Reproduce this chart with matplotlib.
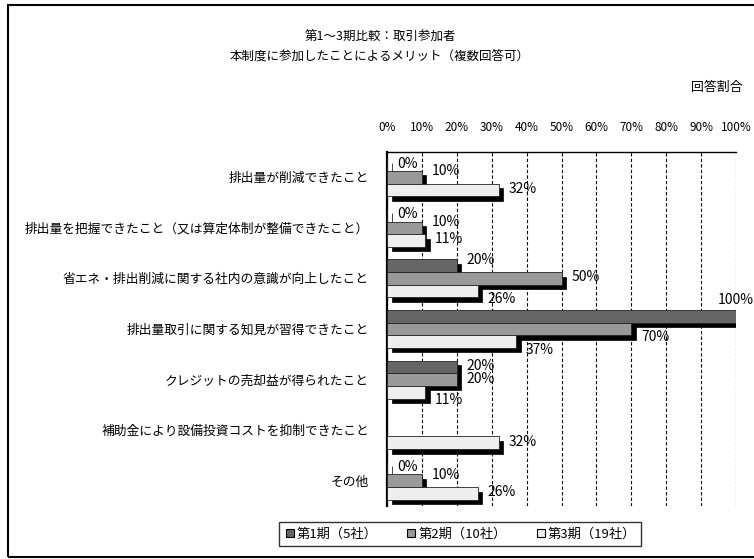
import matplotlib
matplotlib.use('Agg')
import matplotlib.pyplot as plt
import matplotlib.transforms as mtransforms
from matplotlib.lines import Line2D
from matplotlib.patches import Rectangle
import numpy as np

plt.rcParams['font.family'] = ['Noto Sans CJK JP', 'DejaVu Sans']

categories = ['排出量が削減できたこと',
              '排出量を把握できたこと（又は算定体制が整備できたこと）',
              '省エネ・排出削減に関する社内の意識が向上したこと',
              '排出量取引に関する知見が習得できたこと',
              'クレジットの売却益が得られたこと',
              '補助金により設備投資コストを抑制できたこと',
              'その他']
series_names = ['第1期（5社）', '第2期（10社）', '第3期（19社）']
period1 = [0, 0, 20, 100, 20, np.nan, 0]
period2 = [10, 10, 50, 70, 20, np.nan, 10]
period3 = [32, 11, 26, 37, 11, 32, 26]
xticks = list(range(0, 101, 10))

colors = ['#666666', '#999999', '#eeeeee']
W, H = 754, 559
fig = plt.figure(figsize=(W/100, H/100), dpi=100)
ax = fig.add_axes([387/W, 1-506/H, (736-387)/W, (506-152)/H])

bh = 0.25
y = np.arange(len(categories))
allvals = np.array([period1, period2, period3], dtype=float)
shadow = mtransforms.ScaledTranslation(4.5/100, -4.5/100, fig.dpi_scale_trans)
for j, vals in enumerate(allvals):
    pos = y + (j - 1)*bh
    sh = ax.barh(pos, vals, height=bh, color='black', edgecolor='black',
                 linewidth=0.5, zorder=3 + 2*j)
    for p in sh:
        p.set_transform(ax.transData + shadow)
    ax.barh(pos, vals, height=bh, color=colors[j], edgecolor='#222222',
            linewidth=0.6, zorder=4 + 2*j)
    for i, (yy, v) in enumerate(zip(pos, vals)):
        if np.isnan(v):
            continue
        if v >= 95:
            ax.text(v, yy - 0.32, f'{v:.0f}%', ha='center', va='center',
                    fontsize=10, zorder=20, clip_on=False)
            continue
        # move the label away from a longer neighbour bar
        prev_v = allvals[j - 1, i] if j > 0 else np.nan
        next_v = allvals[j + 1, i] if j < 2 else np.nan
        dy = 0.0
        if not np.isnan(prev_v) and prev_v > v:
            dy = 0.18
        elif v > 0 and not np.isnan(next_v) and next_v > v:
            dy = -0.1
        ax.text(v + 2.8, yy - 0.02 + dy, f'{v:.0f}%', ha='left', va='center',
                fontsize=10, zorder=20)

ax.set_xlim(0, 100)
ax.set_ylim(len(categories) - 0.5, -0.5)
ax.set_xticks(xticks)
ax.set_xticklabels([f'{t}%' for t in xticks], fontsize=8.5)
ax.xaxis.tick_top()
ax.tick_params(axis='x', length=0, pad=13)
ax.set_yticks(y)
ax.set_yticklabels(categories, fontsize=9.2)
ax.tick_params(axis='y', length=0, pad=13)
ax.grid(axis='x', color='black', linestyle=(0, (3, 2)), linewidth=0.8, zorder=1)
ax.set_axisbelow(True)
for s in ['right', 'bottom']:
    ax.spines[s].set_visible(False)
ax.spines['left'].set_linewidth(1.6)
ax.spines['top'].set_linewidth(1.0)

fig.text(380/W, 1-37/H, '第1～3期比較：取引参加者', ha='center', va='center', fontsize=9)
fig.text(380/W, 1-56/H, '本制度に参加したことによるメリット（複数回答可）', ha='center',
         va='center', fontsize=9)
fig.text(742/W, 1-87/H, '回答割合', ha='right', va='center', fontsize=9.3)

handles = [Line2D([], [], marker='s', linestyle='None', markersize=6,
                  markerfacecolor=c, markeredgecolor='black', markeredgewidth=0.8)
           for c in colors]
leg = fig.legend(handles, series_names, loc='center', bbox_to_anchor=(460/W, 1-534/H),
                 ncol=3, fontsize=9.5, frameon=True, fancybox=False,
                 handletextpad=0.1, columnspacing=2.2, handlelength=0.8,
                 borderpad=0.4)
leg.get_frame().set_edgecolor('black')
leg.get_frame().set_linewidth(1.0)

fig.patches.append(Rectangle((8/W, 1-557/H), 1.0, (557-5)/H, transform=fig.transFigure,
                             fill=False, edgecolor='black', linewidth=1.5))

fig.savefig('out.png', dpi=100)
